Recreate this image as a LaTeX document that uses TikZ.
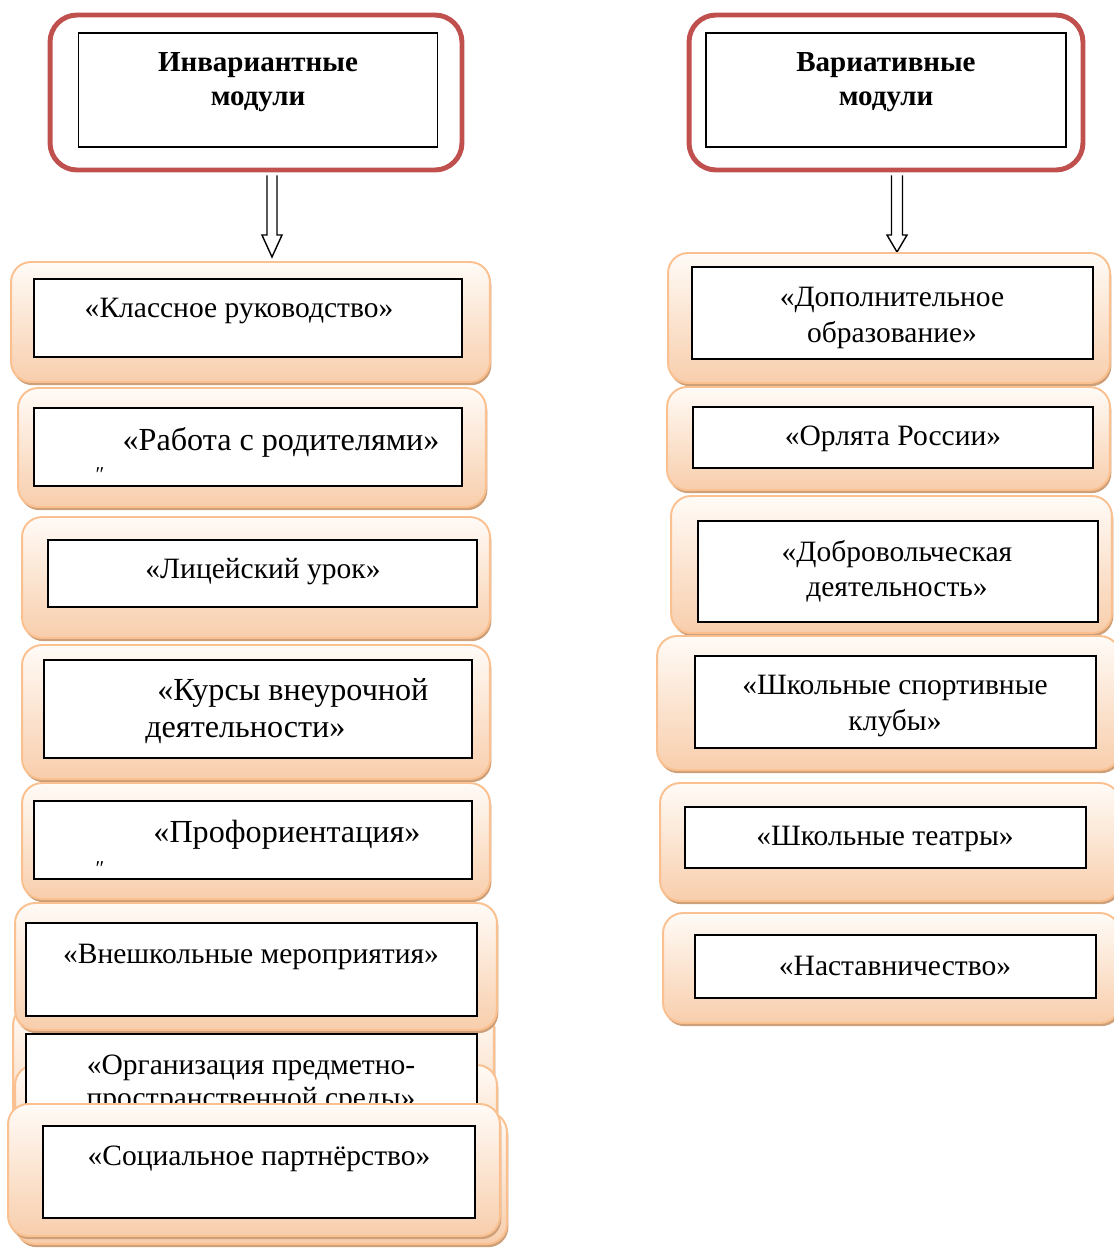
\documentclass[tikz,border=0pt]{standalone}
\usepackage{fontspec}
\setmainfont{Liberation Serif}
\usetikzlibrary{positioning,calc,shadows}
\definecolor{hdrred}{RGB}{192,80,77}
\definecolor{peachline}{RGB}{250,192,143}
\definecolor{peachtop}{RGB}{255,251,247}
\definecolor{peachbot}{RGB}{248,206,172}
\definecolor{peachshade}{RGB}{205,160,122}
\tikzset{
  modbox/.style={rounded corners=0.4cm, draw=peachline, line width=1.1pt,
    top color=peachtop, bottom color=peachbot, inner sep=0pt,
    drop shadow={fill=peachshade, opacity=1, shadow xshift=0.8pt, shadow yshift=-1.8pt}},
  inbox/.style={draw=black, fill=white, line width=1.1pt, inner sep=0pt},
  hdrbox/.style={rounded corners=0.54cm, draw=hdrred, line width=2.8pt, fill=white, inner sep=0pt},
  hdrin/.style={draw=black, fill=white, line width=0.9pt, inner sep=0pt},
  lbl/.style={font=\fontsize{16.8}{20}\selectfont, align=center, inner sep=0pt},
  biglbl/.style={lbl, font=\fontsize{18.3}{21}\selectfont},
  hdrlbl/.style={lbl, font=\fontsize{16.5}{19.2}\selectfont\bfseries},
  hollow/.style={draw=black, fill=white, line width=0.8pt, line join=miter}
}
\begin{document}
\begin{tikzpicture}[x=0.02cm,y=-0.02cm]
\useasboundingbox (0,0) rectangle (1114,1249);
% headers
\node[hdrbox, minimum width=8.24cm, minimum height=3.1cm] (hdrL) at (256,92.5) {};
\node[hdrin, minimum width=7.18cm, minimum height=2.28cm] (hdrLin) at (258,90) {};
\node[hdrlbl] (hdrLtxt) at (258,82) {Инвариантные\\модули};
\node[hdrbox, minimum width=7.88cm, minimum height=3.1cm] (hdrR) at (886,92.5) {};
\node[hdrin, minimum width=7.2cm, minimum height=2.28cm] (hdrRin) at (886,90) {};
\node[hdrlbl] (hdrRtxt) at (886,82) {Вариативные\\модули};
% arrows
\coordinate (tipL) at (272,257);
\coordinate (tipR) at (897,252);
\draw[hollow] ($(tipL |- hdrL.south)+(-5,3)$) -- ($(tipL)+(-5,-22)$) -- ($(tipL)+(-10,-22)$)
  -- (tipL) -- ($(tipL)+(10,-22)$) -- ($(tipL)+(5,-22)$) -- ($(tipL |- hdrL.south)+(5,3)$);
\draw[hollow] ($(tipR |- hdrR.south)+(-5.5,3)$) -- ($(tipR)+(-5.5,-17)$) -- ($(tipR)+(-10,-17)$)
  -- (tipR) -- ($(tipR)+(10,-17)$) -- ($(tipR)+(5.5,-17)$) -- ($(tipR |- hdrR.south)+(5.5,3)$);
% left column
\node[modbox, minimum width=9.58cm, minimum height=2.4cm] (kl) at (250.5,322) {};
\node[inbox, minimum width=8.56cm, minimum height=1.56cm] (klIn) at (248,318) {};
\node[lbl] (klTxt) at (239,311) {«Классное руководство»};
\node[modbox, minimum width=9.36cm, minimum height=2.38cm] (rod) at (252,447.5) {};
\node[inbox, minimum width=8.56cm, minimum height=1.56cm] (rodIn) at (248,447) {};
\node[biglbl] (rodTxt) at (281,442) {«Работа с родителями»};
\node[lbl, font=\fontsize{12}{12}\selectfont] (rodMark) at (100,475) {″};
\node[modbox, minimum width=9.36cm, minimum height=2.42cm] (lic) at (256,577.5) {};
\node[inbox, minimum width=8.58cm, minimum height=1.34cm] (licIn) at (262.5,573.5) {};
\node[lbl] (licTxt) at (263,572) {«Лицейский урок»};
\node[modbox, minimum width=9.36cm, minimum height=2.68cm] (kur) at (256,712) {};
\node[inbox, minimum width=8.56cm, minimum height=1.96cm] (kurIn) at (258,709) {};
\node[biglbl, align=left, anchor=west] (kurTxt) at (145,711) {\hspace*{6.8pt}«Курсы внеурочной\\деятельности»};
\node[modbox, minimum width=9.36cm, minimum height=2.32cm] (prof) at (256,841) {};
\node[inbox, minimum width=8.76cm, minimum height=1.56cm] (profIn) at (253,840) {};
\node[biglbl] (profTxt) at (287,835) {«Профориентация»};
\node[lbl, font=\fontsize{12}{12}\selectfont] (profMark) at (100,869) {″};
\node[modbox, minimum width=9.62cm, minimum height=2.9cm] (org) at (253.5,1077.5) {};
\node[modbox, minimum width=9.64cm, minimum height=2.3cm] (orgB) at (256,1122.5) {};
\node[modbox, minimum width=9.64cm, minimum height=2.54cm] (vne) at (256,966.5) {};
\node[inbox, minimum width=9.02cm, minimum height=1.86cm] (vneIn) at (251.5,969.5) {};
\node[lbl] (vneTxt) at (251,957) {«Внешкольные мероприятия»};
\node[inbox, minimum width=9.02cm, minimum height=1.92cm] (orgIn) at (251.5,1082) {};
\node[lbl, font=\fontsize{16.8}{18.8}\selectfont] (orgTxt) at (251,1084) {«Организация предметно-\\пространственной среды»};
\node[modbox, minimum width=9.84cm, minimum height=2.64cm] (socB) at (261,1178) {};
\node[modbox, minimum width=9.84cm, minimum height=2.64cm] (soc) at (254,1170) {};
\node[inbox, minimum width=8.64cm, minimum height=1.84cm] (socIn) at (259,1172) {};
\node[lbl] (socTxt) at (259,1159) {«Социальное партнёрство»};
% right column
\node[modbox, minimum width=8.84cm, minimum height=2.6cm] (dop) at (889,318) {};
\node[inbox, minimum width=8.02cm, minimum height=1.84cm] (dopIn) at (892.5,313) {};
\node[lbl] (dopTxt) at (892,318) {«Дополнительное\\образование»};
\node[modbox, minimum width=8.86cm, minimum height=2.06cm] (orl) at (888.5,438.5) {};
\node[inbox, minimum width=8.0cm, minimum height=1.22cm] (orlIn) at (893,437.5) {};
\node[lbl] (orlTxt) at (893,439) {«Орлята России»};
\node[modbox, minimum width=8.82cm, minimum height=2.74cm] (dob) at (891.5,564.5) {};
\node[inbox, minimum width=8.0cm, minimum height=2.02cm] (dobIn) at (898,571.5) {};
\node[lbl] (dobTxt) at (897,571) {«Добровольческая\\деятельность»};
\node[modbox, minimum width=9.26cm, minimum height=2.68cm] (spo) at (888.5,703) {};
\node[inbox, minimum width=8.02cm, minimum height=1.84cm] (spoIn) at (895.5,702) {};
\node[lbl] (spoTxt) at (895,706) {«Школьные спортивные\\клубы»};
\node[modbox, minimum width=9.2cm, minimum height=2.36cm] (tea) at (890,842) {};
\node[inbox, minimum width=8.02cm, minimum height=1.22cm] (teaIn) at (885.5,837.5) {};
\node[lbl] (teaTxt) at (885,839) {«Школьные театры»};
\node[modbox, minimum width=9.14cm, minimum height=2.2cm] (nas) at (891.5,968) {};
\node[inbox, minimum width=8.02cm, minimum height=1.26cm] (nasIn) at (895.5,966.5) {};
\node[lbl] (nasTxt) at (895,966) {«Наставничество»};
\end{tikzpicture}
\end{document}
